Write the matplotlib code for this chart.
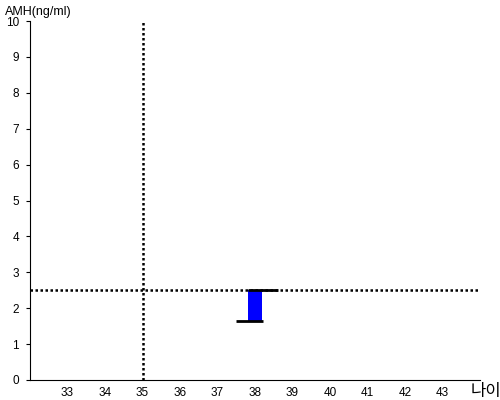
import matplotlib
matplotlib.use('Agg')
import matplotlib.pyplot as plt

plt.rcParams['font.family'] = ['Liberation Sans', 'Noto Sans CJK KR', 'DejaVu Sans']

# data
age = [38]
amh_low = [1.65]
amh_high = [2.52]
ref_age = 35
ref_amh = 2.52
x_ticks = list(range(33, 44))
y_ticks = list(range(0, 11))

fig = plt.figure(figsize=(5, 4), dpi=100)
ax = fig.add_axes([0.06, 0.05, 0.90, 0.8975])

w = 0.4
for a, lo, hi in zip(age, amh_low, amh_high):
    ax.bar(a, hi - lo, bottom=lo, width=w, color='#0000ff', edgecolor='none', zorder=2)
    ax.plot([a - w / 2, a + 0.6], [hi, hi], color='k', lw=2, solid_capstyle='butt', zorder=3)
    ax.plot([a - 0.5, a + w / 2], [lo, lo], color='k', lw=2, solid_capstyle='butt', zorder=3)

ax.axhline(ref_amh, color='k', ls=(0, (1, 1)), lw=1.8, zorder=1)
ax.axvline(ref_age, color='k', ls=(0, (1, 1)), lw=1.8, zorder=1)

ax.set_xlim(32, 44)
ax.set_ylim(0, 10)
ax.set_xticks(x_ticks)
ax.set_yticks(y_ticks)
ax.tick_params(axis='x', length=0, labelsize=8.5, pad=5)
ax.tick_params(axis='y', length=3, labelsize=8.5, pad=5)
ax.spines['top'].set_visible(False)
ax.spines['right'].set_visible(False)

fig.text(0.01, 0.985, 'AMH(ng/ml)', fontsize=9, va='top', ha='left')
fig.text(0.972, 0.022, '나이', fontsize=12, va='center', ha='center')

fig.savefig('out.png', dpi=100)
